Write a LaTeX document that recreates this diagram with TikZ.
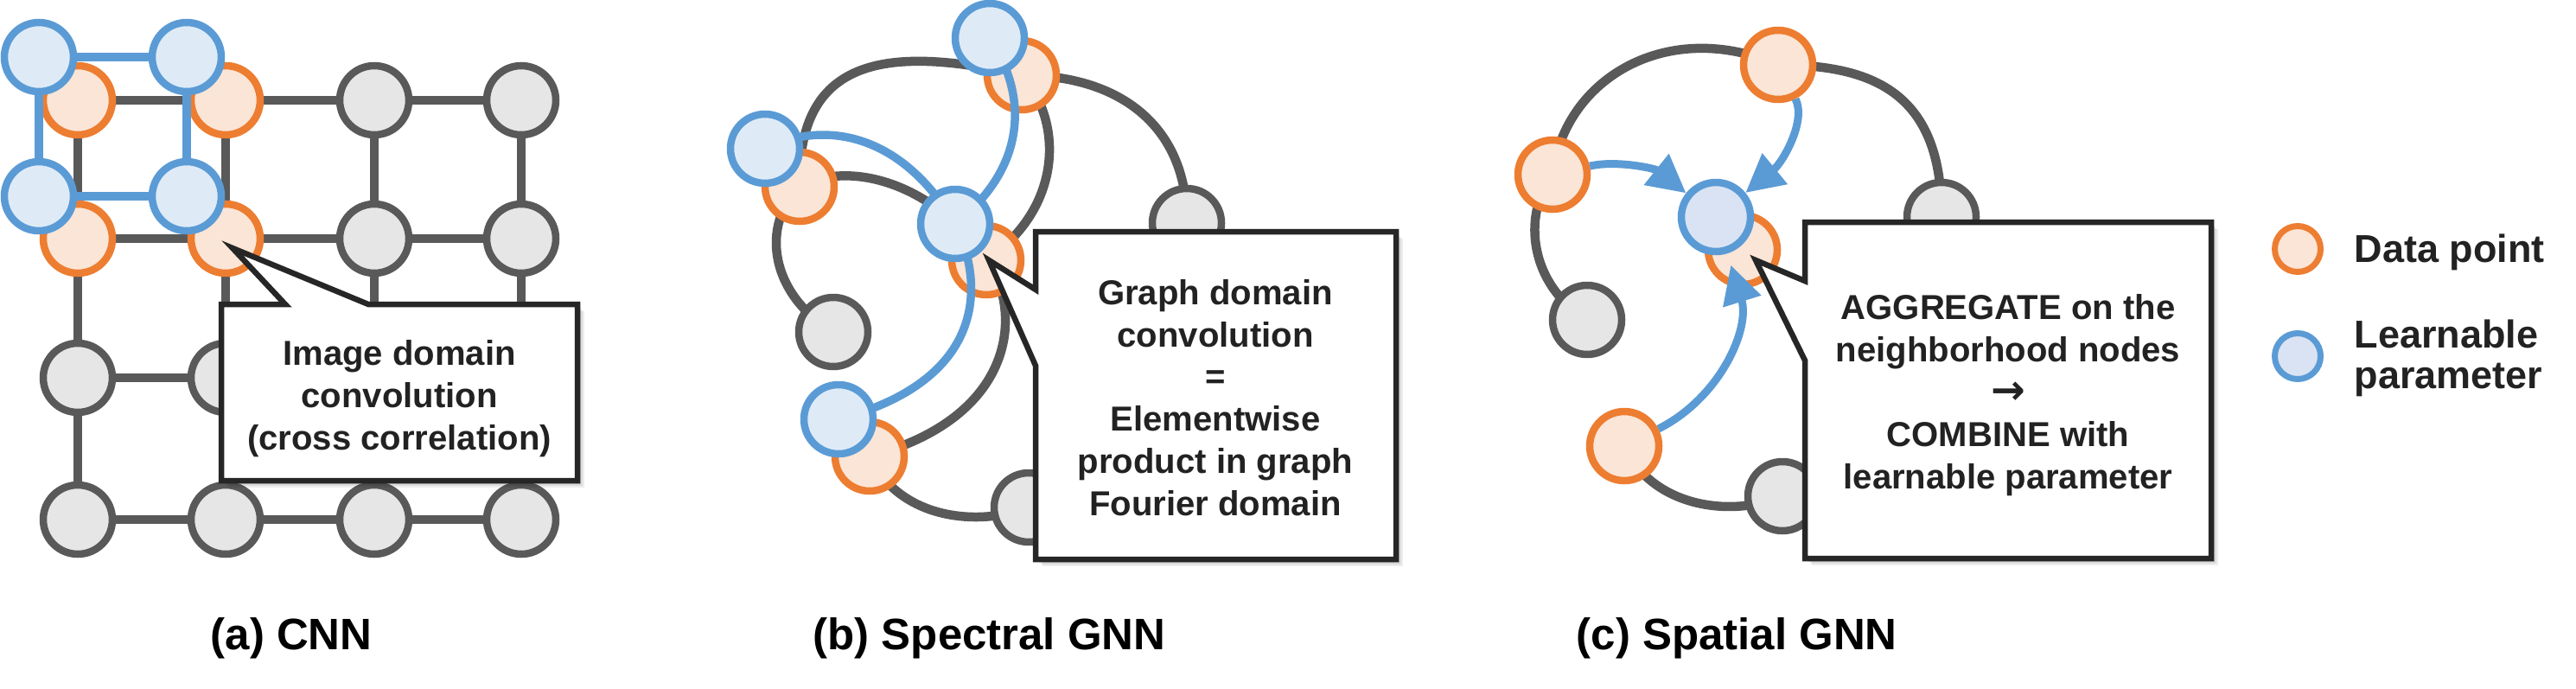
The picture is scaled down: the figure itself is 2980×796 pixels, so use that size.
\documentclass[tikz,border=0pt]{standalone}
\usepackage{fontspec}
\setmainfont{Liberation Sans}
\newfontfamily\arrowfont{DejaVu Sans}
\usetikzlibrary{arrows.meta}
\definecolor{gstroke}{HTML}{595959}
\definecolor{gfill}{HTML}{E7E6E6}
\definecolor{ostroke}{HTML}{ED7D31}
\definecolor{ofill}{HTML}{FBE5D6}
\definecolor{bstroke}{HTML}{5B9BD5}
\definecolor{bfill}{HTML}{DEEBF7}
\definecolor{bfilltwo}{HTML}{DAE3F3}
\definecolor{boxc}{HTML}{262626}
\definecolor{textc}{HTML}{222222}
\pgfdeclarelayer{paper}
\pgfdeclarelayer{bg}
\pgfdeclarelayer{blueedge}
\pgfdeclarelayer{bluenode}
\pgfdeclarelayer{front}
\pgfsetlayers{paper,bg,main,blueedge,bluenode,front}
\begin{document}
\begin{tikzpicture}[x=0.1mm,y=-0.1mm,
  gnode/.style={circle, draw=gstroke, fill=gfill, line width=0.85mm, minimum size=8mm, inner sep=0pt},
  onode/.style={circle, draw=ostroke, fill=ofill, line width=0.85mm, minimum size=8mm, inner sep=0pt},
  bnode/.style={circle, draw=bstroke, fill=bfill, line width=0.85mm, minimum size=8mm, inner sep=0pt},
  gedge/.style={draw=gstroke, line width=1.05mm},
  bedge/.style={draw=bstroke, line width=0.95mm},
  sbedge/.style={draw=bstroke, line width=0.95mm},
  barrow/.style={draw=bstroke, line width=0.9mm, -{Triangle[length=4.4mm,width=4.4mm]}},
  callout/.style={draw=boxc, fill=white, line width=0.65mm, line join=miter},
  shadowbox/.style={fill=black, opacity=0.07},
  boxtext/.style={align=center, inner sep=0pt, text=textc, font=\bfseries\fontsize{11.4}{13.9}\selectfont},
  legtext/.style={inner sep=0pt, text=textc, font=\bfseries\fontsize{12.8}{14}\selectfont},
  labtext/.style={inner sep=0pt, text=black, font=\bfseries\fontsize{14.5}{16}\selectfont}
]
\useasboundingbox (0,0) rectangle (2980,796);
\begin{pgfonlayer}{paper}
\fill[white] (0,0) rectangle (2980,796);
\end{pgfonlayer}

% ================= (a) CNN =================
\foreach \r/\y in {1/116,2/276,3/437,4/601}{
  \foreach \c/\x in {1/90,2/261,3/433,4/603}{
    \pgfmathtruncatemacro{\isor}{and(\r<3,\c<3)}
    \ifnum\isor=1
      \node[onode] (a\r\c) at (\x,\y) {};
    \else
      \node[gnode] (a\r\c) at (\x,\y) {};
    \fi
  }
}
\begin{pgfonlayer}{bg}
\foreach \r in {1,2,3,4}{
  \foreach \c/\n in {1/2,2/3,3/4}{
    \draw[gedge] (a\r\c) -- (a\r\n);
    \draw[gedge] (a\c\r) -- (a\n\r);
  }
}
\end{pgfonlayer}
\begin{pgfonlayer}{bluenode}
\node[bnode] (ab1) at (45,66) {};
\node[bnode] (ab2) at (216,66) {};
\node[bnode] (ab3) at (45,227) {};
\node[bnode] (ab4) at (216,227) {};
\end{pgfonlayer}
\begin{pgfonlayer}{blueedge}
\draw[bedge] (ab1) -- (ab2);
\draw[bedge] (ab2) -- (ab4);
\draw[bedge] (ab4) -- (ab3);
\draw[bedge] (ab3) -- (ab1);
\end{pgfonlayer}
\begin{pgfonlayer}{front}
\coordinate (tipa) at (269,287);
\foreach \d in {2,4,6,8}{\fill[shadowbox] (256+\d,352+\d) rectangle (668+\d,556+\d);}
\draw[callout] (256,352) -- (330,352) -- (tipa) -- (426,352) -- (668,352) -- (668,556) -- (256,556) -- cycle;
\node[boxtext] (ta) at (462,461) {Image domain\\convolution\\(cross correlation)};
\node[labtext, anchor=base west] (la) at (243,751) {(a) CNN};
\end{pgfonlayer}

% ================= (b) Spectral GNN =================
\node[onode] (so1) at (1182,87) {};
\node[onode] (so2) at (925,216) {};
\node[onode] (so3) at (1141,301) {};
\node[onode] (so4) at (1006,528) {};
\node[gnode] (sg1) at (964,384) {};
\node[gnode] (sg2) at (1373,258) {};
\node[gnode] (sg3) at (1190,587) {};
\begin{pgfonlayer}{bluenode}
\node[bnode] (sb1) at (1145,44) {};
\node[bnode] (sb2) at (885,172) {};
\node[bnode] (sb3) at (1105,259) {};
\node[bnode] (sb4) at (970,485) {};
\end{pgfonlayer}
\begin{pgfonlayer}{bg}
\draw[gedge] (so2.center) .. controls (922,70) and (1020,50) .. (so1.center);
\draw[gedge] (so1.center) .. controls (1300,87) and (1374,150) .. (sg2.center);
\draw[gedge] (so1.center) .. controls (1230,140) and (1230,240) .. (so3.center);
\draw[gedge] (so2.center) .. controls (980,185) and (1080,210) .. (so3.center);
\draw[gedge] (so2.center) .. controls (880,260) and (890,340) .. (sg1.center);
\draw[gedge] (so3.center) .. controls (1180,350) and (1185,480) .. (so4.center);
\draw[gedge] (so4.center) .. controls (1040,600) and (1130,610) .. (sg3.center);
\end{pgfonlayer}
\begin{pgfonlayer}{blueedge}
\draw[sbedge] (sb2.center) .. controls (950,140) and (1040,150) .. (sb3.center);
\draw[sbedge] (sb1.center) .. controls (1195,120) and (1180,200) .. (sb3.center);
\draw[sbedge] (sb3.center) .. controls (1140,330) and (1140,440) .. (sb4.center);
\end{pgfonlayer}
\begin{pgfonlayer}{front}
\coordinate (tipb) at (1144,301);
\foreach \d in {2,4,6,8}{\fill[shadowbox] (1198+\d,268+\d) rectangle (1615+\d,647+\d);}
\draw[callout] (1198,335) -- (1198,268) -- (1615,268) -- (1615,647) -- (1198,647) -- (1198,423) -- (tipb) -- cycle;
\node[boxtext] (tb) at (1406,460) {Graph domain\\convolution\\=\\Elementwise\\product in graph\\Fourier domain};
\node[labtext, anchor=base west] (lbl) at (940,751) {(b) Spectral GNN};
\end{pgfonlayer}

% ================= (c) Spatial GNN =================
\node[onode] (to1) at (2057,75) {};
\node[onode] (to2) at (1796,202) {};
\node[onode] (to3) at (2016,289) {};
\node[onode] (to4) at (1879,516) {};
\node[gnode] (tg1) at (1836,370) {};
\node[gnode] (tg2) at (2246,251) {};
\node[gnode] (tg3) at (2062,574) {};
\begin{pgfonlayer}{bluenode}
\node[bnode, fill=bfilltwo] (tbc) at (1985,251) {};
\end{pgfonlayer}
\begin{pgfonlayer}{bg}
\draw[gedge] (to2.center) .. controls (1810,90) and (1930,20) .. (to1.center);
\draw[gedge] (to1.center) .. controls (2170,75) and (2247,110) .. (tg2.center);
\draw[gedge] (to2.center) .. controls (1760,250) and (1770,330) .. (tg1.center);
\draw[gedge] (to4.center) .. controls (1910,585) and (2000,600) .. (tg3.center);
\end{pgfonlayer}
\begin{pgfonlayer}{blueedge}
\draw[barrow] (to2) .. controls (1870,185) and (1915,195) .. (tbc);
\draw[barrow] (to1) .. controls (2090,140) and (2062,188) .. (tbc);
\draw[barrow, shorten >=1.4mm] (to4) .. controls (1990,460) and (2025,380) .. (tbc);
\end{pgfonlayer}
\begin{pgfonlayer}{front}
\coordinate (tipc) at (2031,301);
\foreach \d in {2,4,6,8}{\fill[shadowbox] (2088+\d,257+\d) rectangle (2558+\d,646+\d);}
\draw[callout] (2088,325) -- (2088,257) -- (2558,257) -- (2558,646) -- (2088,646) -- (2088,417) -- (tipc) -- cycle;
\node[boxtext] (tcx) at (2323,457) {AGGREGATE on the\\neighborhood nodes\\{\arrowfont\bfseries\fontsize{13.5}{13.9}\selectfont →}\\COMBINE with\\learnable parameter};
\node[labtext, anchor=base west] (lc) at (1823,751) {(c) Spatial GNN};
\end{pgfonlayer}

% ================= Legend =================
\node[onode, minimum size=5.3mm, line width=0.7mm] (lo) at (2658,288) {};
\node[bnode, fill=bfilltwo, minimum size=5.3mm, line width=0.7mm] (lbn) at (2658,412) {};
\node[legtext, anchor=base west] (ld) at (2723,303) {Data point};
\node[legtext, anchor=base west] (ll1) at (2723,402) {Learnable};
\node[legtext, anchor=base west] (ll2) at (2723,449) {parameter};
\end{tikzpicture}
\end{document}
